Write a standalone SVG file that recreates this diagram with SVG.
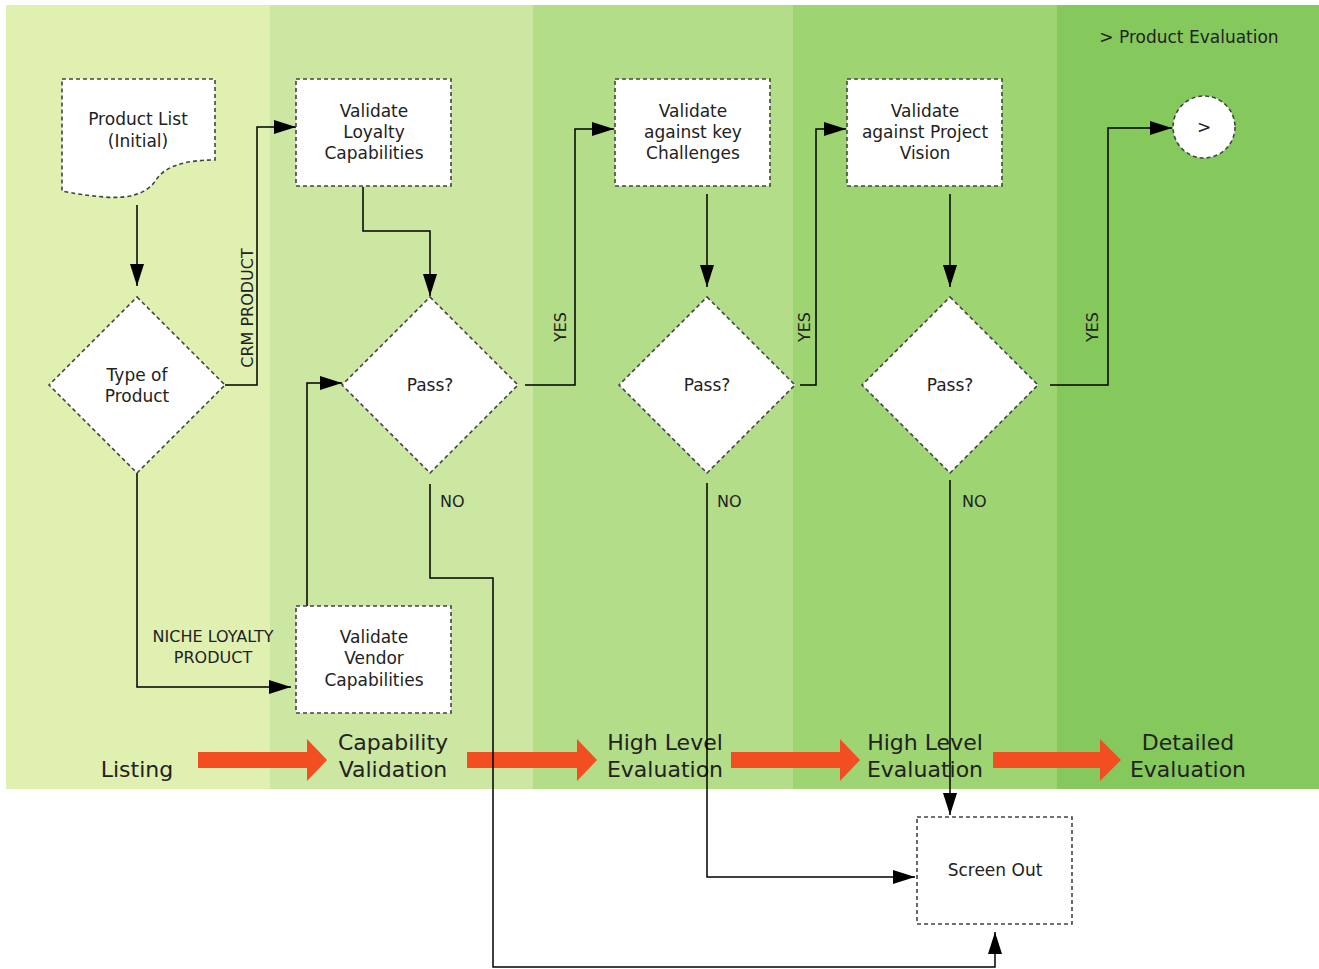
<svg xmlns="http://www.w3.org/2000/svg" width="1319" height="969" viewBox="0 0 1319 969">
<defs>
<marker id="ah" markerUnits="userSpaceOnUse" markerWidth="26" markerHeight="16" refX="22" refY="7" orient="auto">
<path d="M0,0 L22,7 L0,14 Z" fill="#000"/>
</marker>
<style>
.node{fill:#fff;stroke:#444;stroke-width:1.6;stroke-dasharray:4 3}
.t{font-family:"DejaVu Sans",Verdana,sans-serif;font-size:17px;fill:#222;text-anchor:middle}
.lbl{font-family:"DejaVu Sans",Verdana,sans-serif;font-size:16px;fill:#222}
.ph{font-family:"DejaVu Sans",Verdana,sans-serif;font-size:22px;fill:#222;text-anchor:middle}
.c{fill:none;stroke:#000;stroke-width:1.5;marker-end:url(#ah)}
.pa{fill:#f24e22}
</style>
</defs>
<rect x="0" y="0" width="1319" height="969" fill="#fff"/>
<g id="bands">
<rect x="6" y="5" width="264" height="784" fill="#dff0b1"/>
<rect x="270" y="5" width="263" height="784" fill="#cbe7a1"/>
<rect x="533" y="5" width="260" height="784" fill="#b3dd89"/>
<rect x="793" y="5" width="264" height="784" fill="#9ed471"/>
<rect x="1057" y="5" width="262" height="784" fill="#85c95d"/>
</g>
<g id="phases">
<text class="ph" x="137" y="777">Listing</text>
<text class="ph" x="393" y="750">Capability</text>
<text class="ph" x="393" y="777">Validation</text>
<text class="ph" x="665" y="750">High Level</text>
<text class="ph" x="665" y="777">Evaluation</text>
<text class="ph" x="925" y="750">High Level</text>
<text class="ph" x="925" y="777">Evaluation</text>
<text class="ph" x="1188" y="750">Detailed</text>
<text class="ph" x="1188" y="777">Evaluation</text>
<polygon class="pa" points="198,752 307,752 307,739 327,760 307,781 307,768 198,768"/>
<polygon class="pa" points="467,752 577,752 577,739 597,760 577,781 577,768 467,768"/>
<polygon class="pa" points="731,752 840,752 840,739 860,760 840,781 840,768 731,768"/>
<polygon class="pa" points="993,752 1100,752 1100,739 1121,760 1100,781 1100,768 993,768"/>
</g>
<text class="t" x="1189" y="43">&gt; Product Evaluation</text>
<g id="connectors">
<path class="c" d="M137,205 V286"/>
<path class="c" d="M225,385 H257 V127 H296"/>
<path class="c" d="M363,187 V231 H430 V296"/>
<path class="c" d="M137,473 V687 H291"/>
<path class="c" d="M307,606 V383 H342"/>
<path class="c" d="M525,385 H575 V129 H614"/>
<path class="c" d="M430,484 V578 H493 V967 H995 V932"/>
<path class="c" d="M707,194 V287"/>
<path class="c" d="M800,385 H816 V129 H846"/>
<path class="c" d="M707,483 V877 H915"/>
<path class="c" d="M950,194 V287"/>
<path class="c" d="M1050,385 H1108 V128 H1172"/>
<path class="c" d="M950,480 V815"/>
<text class="lbl" text-anchor="middle" transform="translate(253,308) rotate(-90)">CRM PRODUCT</text>
<text class="lbl" text-anchor="middle" x="213" y="642">NICHE LOYALTY</text>
<text class="lbl" text-anchor="middle" x="213" y="663">PRODUCT</text>
<text class="lbl" text-anchor="middle" transform="translate(566,327) rotate(-90)">YES</text>
<text class="lbl" text-anchor="middle" transform="translate(810,327) rotate(-90)">YES</text>
<text class="lbl" text-anchor="middle" transform="translate(1098,327) rotate(-90)">YES</text>
<text class="lbl" x="440" y="507">NO</text>
<text class="lbl" x="717" y="507">NO</text>
<text class="lbl" x="962" y="507">NO</text>
</g>
<g id="product-list">
<path class="node" d="M62,79 H215 V160 C185,160 165,166 156,180 C147,194 128,199 105,197 C88,196 72,193 62,191 Z"/>
<text class="t" x="138" y="125">Product List</text>
<text class="t" x="138" y="147">(Initial)</text>
</g>
<g id="type-of-product">
<polygon class="node" points="137,297 225,385 137,473 49,385"/>
<text class="t" x="137" y="381">Type of</text>
<text class="t" x="137" y="402">Product</text>
</g>
<g id="validate-loyalty">
<rect class="node" x="296" y="79" width="155" height="107"/>
<text class="t" x="374" y="117">Validate</text>
<text class="t" x="374" y="138">Loyalty</text>
<text class="t" x="374" y="159">Capabilities</text>
</g>
<g id="pass1">
<polygon class="node" points="430,297 518,385 430,473 342,385"/>
<text class="t" x="430" y="391">Pass?</text>
</g>
<g id="validate-vendor">
<rect class="node" x="296" y="606" width="155" height="107"/>
<text class="t" x="374" y="643">Validate</text>
<text class="t" x="374" y="664">Vendor</text>
<text class="t" x="374" y="686">Capabilities</text>
</g>
<g id="validate-key">
<rect class="node" x="615" y="79" width="155" height="107"/>
<text class="t" x="693" y="117">Validate</text>
<text class="t" x="693" y="138">against key</text>
<text class="t" x="693" y="159">Challenges</text>
</g>
<g id="pass2">
<polygon class="node" points="707,297 795,385 707,473 619,385"/>
<text class="t" x="707" y="391">Pass?</text>
</g>
<g id="validate-vision">
<rect class="node" x="847" y="79" width="155" height="107"/>
<text class="t" x="925" y="117">Validate</text>
<text class="t" x="925" y="138">against Project</text>
<text class="t" x="925" y="159">Vision</text>
</g>
<g id="pass3">
<polygon class="node" points="950,297 1038,385 950,473 862,385"/>
<text class="t" x="950" y="391">Pass?</text>
</g>
<g id="next">
<circle class="node" cx="1204" cy="127" r="31"/>
<text class="t" x="1204" y="133">&gt;</text>
</g>
<g id="screen-out">
<rect class="node" x="917" y="817" width="155" height="107"/>
<text class="t" x="995" y="876">Screen Out</text>
</g>
</svg>
